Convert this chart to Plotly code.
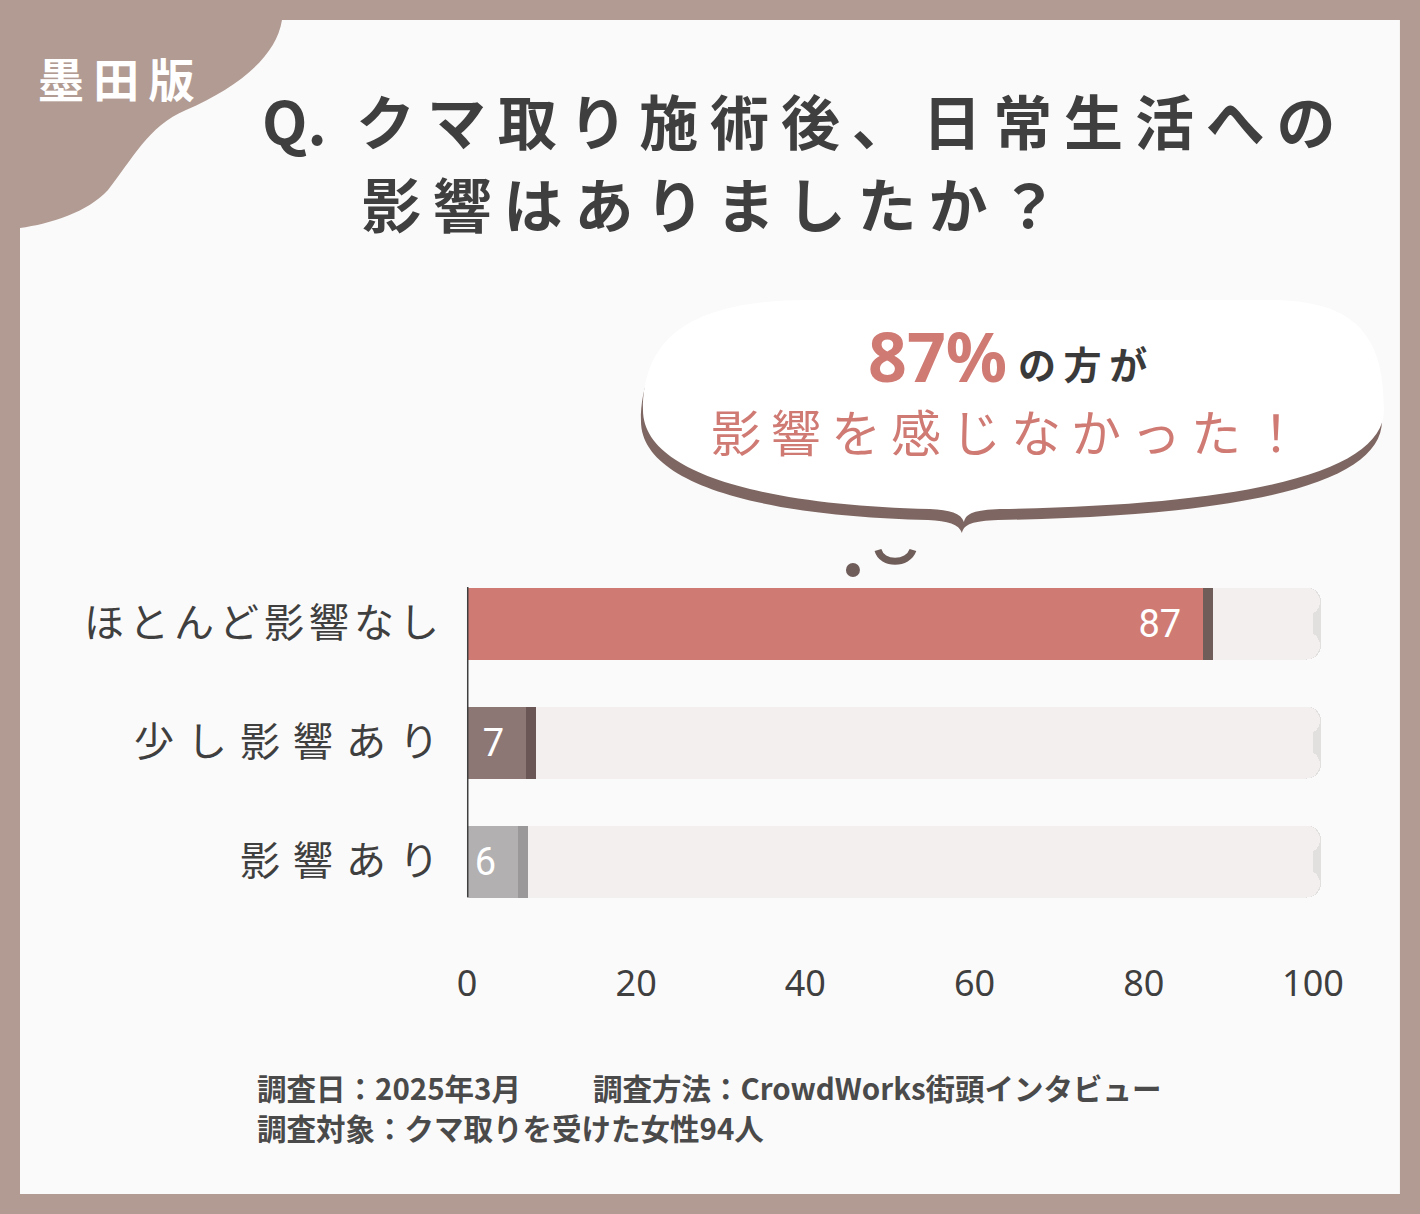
import plotly.graph_objects as go

# ---- data ----
categories = ["ほとんど影響なし", "少し影響あり", "影響あり"]
values = [87, 7, 6]
bar_colors = ["#d07a74", "#8d7775", "#b2b0b0"]
shadow_colors = ["#6f5d5a", "#6a5654", "#9a9898"]
x_ticks = [0, 20, 40, 60, 80, 100]
title_q = "Q."
title_line1 = "クマ取り施術後、日常生活への"
title_line2 = "影響はありましたか？"
badge_text = "墨田版"
bubble_big = "87%"
bubble_small = "の方が"
bubble_line2 = "影響を感じなかった！"
footer1a = "調査日：2025年3月"
footer1b = "調査方法：CrowdWorks街頭インタビュー"
footer2 = "調査対象：クマ取りを受けた女性94人"

W, H = 1420, 1214
BORDER = "#b19b93"
DARK = "#3f3f3f"
PINK = "#d07a74"
FONT = "Noto Sans CJK JP"

# the photographed page maps page x to picture x as 10 + 0.993*x
OFF, SC = 10.0, 0.993


def px(x):
    return ((x - OFF) / SC) / W


def py(y):
    return 1 - y / H


def path_px(cmds):
    out = []
    for c in cmds:
        if isinstance(c, str):
            out.append(c)
        else:
            out.append(f"{px(c[0]):.5f},{py(c[1]):.5f}")
    return " ".join(out)


def spaced(s, sep="\u2009"):
    return sep.join(list(s))


fig = go.Figure()

ys = list(range(len(categories)))
# background track shadow
fig.add_trace(go.Bar(y=ys, x=[100.9] * 3, orientation="h", width=0.605,
                     marker=dict(color="#e2e0df", cornerradius=14, line_width=0),
                     hoverinfo="skip", showlegend=False))
fig.add_trace(go.Bar(y=ys, x=[100] * 3, orientation="h", width=0.605,
                     marker=dict(color="#f2efee", cornerradius=14, line_width=0),
                     hoverinfo="skip", showlegend=False))
# value bar shadow
fig.add_trace(go.Bar(y=ys, x=[v + 1.2 for v in values], orientation="h", width=0.605,
                     marker=dict(color=shadow_colors, cornerradius=12, line_width=0),
                     hoverinfo="skip", showlegend=False))
# value bar
fig.add_trace(go.Bar(y=ys, x=values, orientation="h", width=0.605,
                     marker=dict(color=bar_colors, cornerradius=12, line_width=0),
                     text=[str(v) + "\u00a0\u00a0" for v in values], textposition="inside",
                     insidetextanchor="end", textangle=0, constraintext="none",
                     textfont=dict(color="white", size=38, family="Liberation Sans Narrow, Roboto, sans-serif"),
                     hoverinfo="skip", showlegend=False))

x0_px, unit = 467, 8.46
xmax = 105
fig.update_layout(
    width=W, height=H,
    margin=dict(l=0, r=0, t=0, b=0),
    paper_bgcolor=BORDER, plot_bgcolor="rgba(0,0,0,0)",
    barmode="overlay", bargap=0,
    xaxis=dict(domain=[px(x0_px), px(x0_px + xmax * unit)], range=[0, xmax],
               tickvals=x_ticks, ticktext=[str(t) for t in x_ticks],
               showgrid=False, zeroline=False, showline=False,
               tickfont=dict(size=36, color=DARK, family="Noto Sans, " + FONT),
               ticklabelstandoff=38, fixedrange=True),
    yaxis=dict(domain=[py(920.5), py(563.5)], range=[2.5, -0.5],
               tickvals=ys,
               ticktext=[spaced(c, "\u200a\u200a" if len(c) > 6 else "\u2009\u200a\u200a") for c in categories],
               showgrid=False, zeroline=False, showline=False,
               tickfont=dict(size=40, color=DARK, family=FONT),
               ticklabelstandoff=27, fixedrange=True),
    font=dict(family=FONT),
)

shapes = []
# white panel
shapes.append(dict(type="rect", xref="paper", yref="paper", x0=px(20), x1=px(1400), y0=py(1194), y1=py(20),
                   fillcolor="#fbfafa", line_width=0, layer="below"))
# corner badge
badge = path_px(["M", (20, 20), "L", (282, 20), "C", (276, 58), (236, 88), (186, 110),
                 "C", (148, 126), (132, 160), (108, 190), "C", (88, 212), (50, 224), (20, 228), "Z"])
shapes.append(dict(type="path", xref="paper", yref="paper", path=badge, fillcolor=BORDER, line_width=0, layer="below"))


def bubble(dx, dy):
    pts = ["M", (643, 410),
           "C", (643, 328), (705, 300), (810, 300),
           "L", (1270, 300),
           "C", (1360, 300), (1384, 340), (1384, 410),
           "C", (1384, 472), (1250, 505), (1000, 509),
           "C", (975, 510), (966, 513), (964, 522),
           "C", (961, 513), (950, 510), (930, 509),
           "C", (760, 505), (643, 472), (643, 410), "Z"]
    return path_px([p if isinstance(p, str) else (p[0] + dx, p[1] + dy) for p in pts])


shapes.append(dict(type="path", xref="paper", yref="paper", path=bubble(-2, 11), fillcolor="#7e6762", line_width=0, layer="below"))
shapes.append(dict(type="path", xref="paper", yref="paper", path=bubble(0, 0), fillcolor="#ffffff", line_width=0, layer="below"))
# dots under bubble
shapes.append(dict(type="circle", xref="paper", yref="paper", x0=px(846), x1=px(860), y0=py(577), y1=py(563),
                   fillcolor="#6f5d5a", line_width=0))
smile = path_px(["M", (878, 550), "C", (882, 565), (908, 565), (913, 550)])
shapes.append(dict(type="path", xref="paper", yref="paper", path=smile, line=dict(color="#6f5d5a", width=7)))
# y axis line
shapes.append(dict(type="line", xref="x", yref="y", x0=0, x1=0, y0=-0.3025, y1=2.3025,
                   line=dict(color=DARK, width=3)))
fig.update_layout(shapes=shapes)

ann = []
ann.append(dict(x=px(36), y=py(77), xref="paper", yref="paper", xanchor="left", yanchor="middle",
                text="<b>" + spaced(badge_text) + "</b>", showarrow=False,
                font=dict(size=46, color="white", family=FONT)))
ann.append(dict(x=px(260), y=py(120), xref="paper", yref="paper", xanchor="left", yanchor="middle",
                text="<b>" + title_q + "\u2002" + spaced(title_line1) + "</b>", showarrow=False,
                font=dict(size=59, color=DARK, family=FONT)))
ann.append(dict(x=px(360), y=py(202), xref="paper", yref="paper", xanchor="left", yanchor="middle",
                text="<b>" + spaced(title_line2) + "</b>", showarrow=False,
                font=dict(size=59, color=DARK, family=FONT)))
ann.append(dict(x=px(866), y=py(355), xref="paper", yref="paper", xanchor="left", yanchor="middle",
                text="<b>" + bubble_big + "</b>", showarrow=False,
                font=dict(size=68, color=PINK, family="Noto Sans, " + FONT)))
ann.append(dict(x=px(1016), y=py(362), xref="paper", yref="paper", xanchor="left", yanchor="middle",
                text="<b>" + spaced(bubble_small) + "</b>", showarrow=False,
                font=dict(size=38, color="#3a3a3a", family=FONT)))
ann.append(dict(x=px(1006), y=py(430), xref="paper", yref="paper", xanchor="center", yanchor="middle",
                text=spaced(bubble_line2), showarrow=False,
                font=dict(size=50, color=PINK, family=FONT)))
ann.append(dict(x=px(255), y=py(1087), xref="paper", yref="paper", xanchor="left", yanchor="middle",
                text="<b>" + footer1a + "</b>", showarrow=False,
                font=dict(size=29.5, color="#4a4a4a", family=FONT)))
ann.append(dict(x=px(591), y=py(1087), xref="paper", yref="paper", xanchor="left", yanchor="middle",
                text="<b>" + footer1b + "</b>", showarrow=False,
                font=dict(size=29.5, color="#4a4a4a", family=FONT)))
ann.append(dict(x=px(255), y=py(1127), xref="paper", yref="paper", xanchor="left", yanchor="middle",
                text="<b>" + footer2 + "</b>", showarrow=False,
                font=dict(size=29.5, color="#4a4a4a", family=FONT)))
fig.update_layout(annotations=ann)

fig.write_html("out.html", config={"displayModeBar": False},
               post_script="document.body.style.margin='0';document.body.style.overflow='hidden';")
